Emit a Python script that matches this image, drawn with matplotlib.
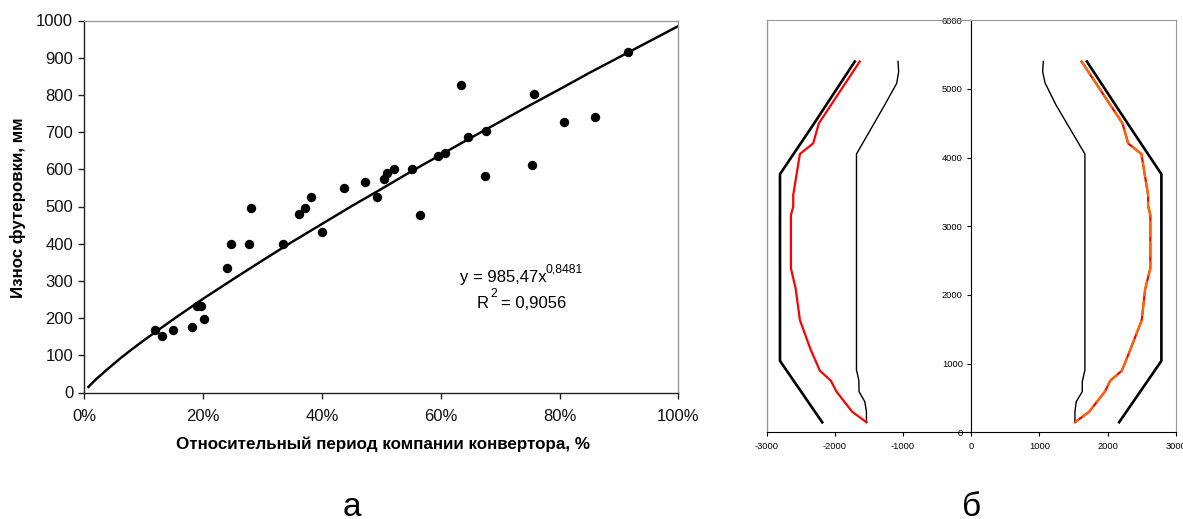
import matplotlib
matplotlib.use("Agg")
import matplotlib.pyplot as plt

plt.rcParams['font.family'] = ['Liberation Sans', 'DejaVu Sans']

W, H = 1183, 519

# Panel a: scatter and trendline
scatter_x = [11.9, 13, 15, 18.2, 19, 19.7, 20.2, 24, 24.7, 27.8, 28, 33.4, 36.2, 37.2, 38.1, 40.1, 43.7, 47.2,
             49.2, 50.4, 51, 52.1, 55.2, 56.5, 59.6, 60.7, 63.4, 64.6, 67.5, 67.6, 75.4, 75.7, 80.8, 86, 91.5]
scatter_y = [167, 152, 167, 177, 232, 232, 198, 336, 398, 400, 495, 400, 480, 495, 526, 431, 550, 565,
             526, 575, 590, 602, 602, 477, 636, 645, 827, 686, 582, 702, 612, 802, 726, 741, 916]
trend_x = [0.7, 1, 2, 4, 6, 8, 10, 15, 20, 25, 30, 35, 40, 45, 50, 55, 60, 65, 70, 75, 80, 85, 90, 95, 100]
trend_y = [15, 20, 36, 64, 91, 116, 140, 197, 252, 304, 355, 405, 453, 501, 547, 594, 639, 684, 728, 772, 815,
           859, 901, 943, 985]
a_xticks = [0, 20, 40, 60, 80, 100]
a_xticklabels = ['0%', '20%', '40%', '60%', '80%', '100%']
a_yticks = [0, 100, 200, 300, 400, 500, 600, 700, 800, 900, 1000]

# Panel b: profiles, left half
left_outer_x = [-1708, -2320, -2805, -2805, -2186]
left_outer_y = [5400, 4475, 3760, 1040, 146]
left_inner_x = [-1074, -1064, -1093, -1269, -1683, -1683, -1649, -1645, -1561, -1537, -1537]
left_inner_y = [5400, 5252, 5082, 4767, 4053, 907, 762, 592, 446, 300, 146]
left_red_x = [-1635, -2235, -2318, -2513, -2611, -2611, -2645, -2645, -2576, -2513, -2357, -2220, -2059, -1976,
              -1747, -1537]
left_red_y = [5400, 4500, 4208, 4053, 3455, 3285, 3164, 2388, 2097, 1635, 1208, 897, 751, 592, 300, 146]

# Panel b: profiles, right half
right_outer_x = [1697, 2310, 2790, 2790, 2170]
right_outer_y = [5400, 4475, 3760, 1040, 146]
right_inner_x = [1058, 1048, 1083, 1244, 1668, 1668, 1629, 1629, 1541, 1522, 1522]
right_inner_y = [5400, 5252, 5090, 4767, 4053, 907, 737, 592, 446, 300, 146]
right_red_x = [1619, 2219, 2302, 2497, 2595, 2595, 2628, 2628, 2551, 2502, 2336, 2210, 2039, 1961, 1731, 1522]
right_red_y = [5400, 4500, 4208, 4053, 3455, 3300, 3164, 2388, 2080, 1635, 1208, 897, 751, 592, 300, 146]

b_xticks = [-3000, -2000, -1000, 0, 1000, 2000, 3000]
b_yticks = [0, 1000, 2000, 3000, 4000, 5000, 6000]


def box(l, t, r, b):
    return [l / W, 1 - b / H, (r - l) / W, (b - t) / H]


GREY = '#999999'
DARK = '#222222'

fig = plt.figure(figsize=(W / 100, H / 100), dpi=100)

# --- panel a
ax = fig.add_axes(box(84.3, 20.5, 678.3, 392.5))
ax.plot(trend_x, trend_y, color='black', lw=1.75, zorder=2)
ax.scatter(scatter_x, scatter_y, s=46, color='black', linewidths=0, zorder=3, clip_on=False)
ax.set_xlim(0, 100)
ax.set_ylim(0, 1000)
ax.set_xticks(a_xticks, a_xticklabels)
ax.set_yticks(a_yticks)
ax.tick_params(labelsize=12, length=4, width=1, color=DARK, labelcolor='#111111', pad=4)
ax.tick_params(axis='x', pad=8)
for s in ('top', 'right'):
    ax.spines[s].set_color(GREY)
for s in ('left', 'bottom'):
    ax.spines[s].set_color(DARK)
for s in ax.spines.values():
    s.set_linewidth(1)
fig.text(382.5 / W, 1 - 444 / H, 'Относительный период компании конвертора, %', fontsize=12.25, fontweight='bold',
         ha='center', va='center')
fig.text(18 / W, 1 - 208 / H, 'Износ футеровки, мм', fontsize=12.2, fontweight='bold', rotation=90,
         ha='center', va='center')

fig.text(460 / W, 1 - 282 / H, 'y = 985,47x', fontsize=12, ha='left', va='baseline')
fig.text(546 / W, 1 - 272.5 / H, '0,8481', fontsize=8.8, ha='left', va='baseline')
fig.text(477 / W, 1 - 308 / H, 'R', fontsize=12, ha='left', va='baseline')
fig.text(490 / W, 1 - 297 / H, '2', fontsize=8.8, ha='left', va='baseline')
fig.text(501 / W, 1 - 308 / H, '= 0,9056', fontsize=12, ha='left', va='baseline')

# --- panel b
bx = fig.add_axes(box(766.7, 20.3, 1175.7, 432.3))
bx.plot(left_outer_x, left_outer_y, color='black', lw=1.9)
bx.plot(right_outer_x, right_outer_y, color='black', lw=1.9)
bx.plot(left_inner_x, left_inner_y, color='black', lw=1.0)
bx.plot(right_inner_x, right_inner_y, color='black', lw=1.0)
bx.plot(left_red_x, left_red_y, color='#ff0000', lw=1.6)
bx.plot(right_red_x, right_red_y, color='#ff0000', lw=1.6)
bx.plot(right_red_x, right_red_y, color='#ff6600', lw=1.6, dashes=(7, 2))
bx.set_xlim(-3000, 3000)
bx.set_ylim(0, 6000)
bx.set_xticks(b_xticks)
bx.set_xticklabels([str(v) for v in b_xticks])
bx.set_yticks(b_yticks)
bx.spines['left'].set_position(('data', 0))
bx.spines['left'].set_color('black')
bx.spines['bottom'].set_color('black')
bx.spines['top'].set_color(GREY)
bx.spines['right'].set_color(GREY)
# grey frame on the -3000 side
bx.axvline(-3000, color=GREY, lw=1, clip_on=False)
bx.tick_params(labelsize=6.7, length=3, width=0.8, pad=4, color='black')
bx.tick_params(axis='y', pad=3)

# captions
fig.text(352 / W, 1 - 515.5 / H, 'а', fontsize=24, ha='center', va='baseline')
fig.text(972 / W, 1 - 515.5 / H, 'б', fontsize=24, ha='center', va='baseline')

fig.savefig('out.png', dpi=100)
